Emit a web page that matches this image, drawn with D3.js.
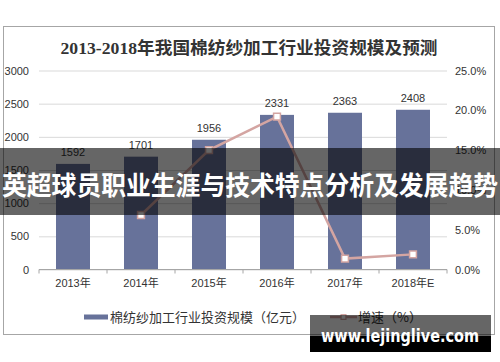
<!DOCTYPE html>
<html>
<head>
<meta charset="utf-8">
<script src="https://cdn.jsdelivr.net/npm/d3@7"></script>
<style>
  body { margin: 0; background: #fff; }
  svg text { font-family: "Liberation Sans", Arial, "Noto Sans CJK SC", sans-serif; }
</style>
</head>
<body>
<div id="chart"></div>
<script>
// Chart data
var years = ['2013年', '2014年', '2015年', '2016年', '2017年', '2018年E'];
var investment = [1592, 1701, 1956, 2331, 2363, 2408];
var growth = [null, 0.0685, 0.150, 0.192, 0.0137, 0.019];
var leftTicks = [0, 500, 1000, 1500, 2000, 2500, 3000];
var rightTicks = [0, 0.05, 0.10, 0.15, 0.20, 0.25];

var svgWidth = 500;
var svgHeight = 362;

var svg = d3.select('#chart').append('svg').attr('width', svgWidth).attr('height', svgHeight);

// Plot area
var plot = { left: 39, right: 447, top: 70.5, bottom: 269.5 };

// Frame
svg.append('rect')
  .attr('x', 3.5).attr('y', 26.5)
  .attr('width', 491).attr('height', 308)
  .attr('fill', '#fff').attr('stroke', '#a6a6a6');

// Title
svg.append('text')
  .attr('x', 249).attr('y', 54)
  .attr('text-anchor', 'middle')
  .style('font-family', '"Liberation Serif", "Noto Sans CJK SC", serif')
  .style('font-weight', 'bold').style('font-size', '17px')
  .attr('fill', '#333')
  .attr('textLength', 377).attr('lengthAdjust', 'spacingAndGlyphs')
  .text('2013-2018年我国棉纺纱加工行业投资规模及预测');

// Scales
var xScale = d3.scaleBand().domain(years).range([plot.left, plot.right]).paddingInner(0.5).paddingOuter(0.25);
var yLeft = d3.scaleLinear().domain([0, 3000]).range([plot.bottom, plot.top]);
var yRight = d3.scaleLinear().domain([0, 0.25]).range([plot.bottom, plot.top]);

// Gridlines + left labels
var leftAxis = d3.axisLeft(yLeft).tickValues(leftTicks).tickSize(-(plot.right - plot.left)).tickPadding(10).tickFormat(d3.format('d'));
var gLeft = svg.append('g').attr('transform', `translate(${plot.left}, 0)`).call(leftAxis);
gLeft.select('.domain').remove();
gLeft.selectAll('line').attr('stroke', '#d9d9d9');
gLeft.selectAll('text').attr('fill', '#333').style('font-size', '11px');

// Right labels
var rightAxis = d3.axisRight(yRight).tickValues(rightTicks).tickSize(0).tickPadding(8).tickFormat(d3.format('.1%'));
var gRight = svg.append('g').attr('transform', `translate(${plot.right}, 0)`).call(rightAxis);
gRight.select('.domain').remove();
gRight.selectAll('text').attr('fill', '#333').style('font-size', '11px');

// Bars
svg.selectAll('.bar')
  .data(investment)
  .enter()
  .append('rect')
  .attr('class', 'bar')
  .attr('x', (d, i) => xScale(years[i]))
  .attr('y', (d) => yLeft(d))
  .attr('width', xScale.bandwidth())
  .attr('height', (d) => plot.bottom - yLeft(d))
  .attr('fill', '#67729a');

// Bar value labels
svg.selectAll('.barLabel')
  .data(investment)
  .enter()
  .append('text')
  .attr('x', (d, i) => xScale(years[i]) + xScale.bandwidth() / 2)
  .attr('y', (d) => yLeft(d) - 8)
  .attr('text-anchor', 'middle')
  .style('font-size', '11px')
  .attr('fill', '#333')
  .text((d) => d);

// Bottom axis
var bottomAxis = d3.axisBottom(xScale).tickSize(0).tickPadding(10);
var gBottom = svg.append('g').attr('transform', `translate(0, ${plot.bottom})`).call(bottomAxis);
gBottom.select('.domain').attr('stroke', '#a6a6a6').attr('d', `M${plot.left},0H${plot.right}`);
gBottom.selectAll('text').attr('fill', '#333').style('font-size', '11px');
// boundary tick marks
var step = xScale.step();
var bounds = d3.range(years.length + 1).map((i) => plot.left + i * step);
gBottom.selectAll('.bound')
  .data(bounds)
  .enter()
  .append('line')
  .attr('x1', (d) => d).attr('x2', (d) => d)
  .attr('y1', 0).attr('y2', 4)
  .attr('stroke', '#a6a6a6');

// Growth line
var lineColor = '#d4a5a2';
var points = growth.map((g, i) => ({ year: years[i], g: g })).filter((d) => d.g !== null);
var line = d3.line()
  .x((d) => xScale(d.year) + xScale.bandwidth() / 2)
  .y((d) => yRight(d.g));
svg.append('path')
  .datum(points)
  .attr('d', line)
  .attr('fill', 'none')
  .attr('stroke', lineColor)
  .attr('stroke-width', 2.5);

var diamond = d3.symbol().type(d3.symbolDiamond2).size(60);
svg.selectAll('.marker')
  .data(points)
  .enter()
  .append('path')
  .attr('d', diamond)
  .attr('transform', (d) => `translate(${xScale(d.year) + xScale.bandwidth() / 2}, ${yRight(d.g)}) rotate(45)`)
  .attr('fill', '#fff')
  .attr('stroke', lineColor)
  .attr('stroke-width', 1.5);

// Legend
var legend = svg.append('g');
legend.append('rect').attr('x', 84).attr('y', 314.5).attr('width', 24).attr('height', 5).attr('fill', '#67729a');
legend.append('text').attr('x', 110).attr('y', 322).style('font-size', '13px').attr('fill', '#333')
  .style('font-family', '"Noto Sans CJK SC", sans-serif')
  .text('棉纺纱加工行业投资规模（亿元）');
legend.append('line').attr('x1', 330).attr('x2', 357).attr('y1', 317).attr('y2', 317)
  .attr('stroke', lineColor).attr('stroke-width', 2.5);
legend.append('path').attr('d', d3.symbol().type(d3.symbolDiamond2).size(30))
  .attr('transform', 'translate(343.5, 317) rotate(45)')
  .attr('fill', '#fff').attr('stroke', lineColor).attr('stroke-width', 1.2);
legend.append('text').attr('x', 358).attr('y', 322).style('font-size', '13px').attr('fill', '#333')
  .style('font-family', '"Noto Sans CJK SC", sans-serif')
  .text('增速（%）');

// Overlay banner
svg.append('rect').attr('x', 0).attr('y', 148).attr('width', 500).attr('height', 67).attr('fill', 'rgba(0,0,0,0.6)');
svg.append('text')
  .attr('x', 250).attr('y', 195)
  .attr('text-anchor', 'middle')
  .style('font-family', '"Noto Sans CJK SC", sans-serif')
  .style('font-weight', 'bold').style('font-size', '26px')
  .attr('fill', '#fff')
  .attr('textLength', 496).attr('lengthAdjust', 'spacingAndGlyphs')
  .text('英超球员职业生涯与技术特点分析及发展趋势');

// Watermark
svg.append('rect').attr('x', 310).attr('y', 315).attr('width', 181).attr('height', 21).attr('fill', 'rgba(0,0,0,0.6)');
svg.append('rect').attr('x', 310).attr('y', 336).attr('width', 181).attr('height', 16).attr('fill', '#000');
svg.append('text')
  .attr('x', 400).attr('y', 342)
  .attr('text-anchor', 'middle')
  .style('font-family', '"DejaVu Sans", sans-serif')
  .style('font-weight', 'bold').style('font-size', '17px')
  .attr('fill', '#fff')
  .attr('textLength', 158).attr('lengthAdjust', 'spacingAndGlyphs')
  .text('www.lejinglive.com');
</script>
</body>
</html>
